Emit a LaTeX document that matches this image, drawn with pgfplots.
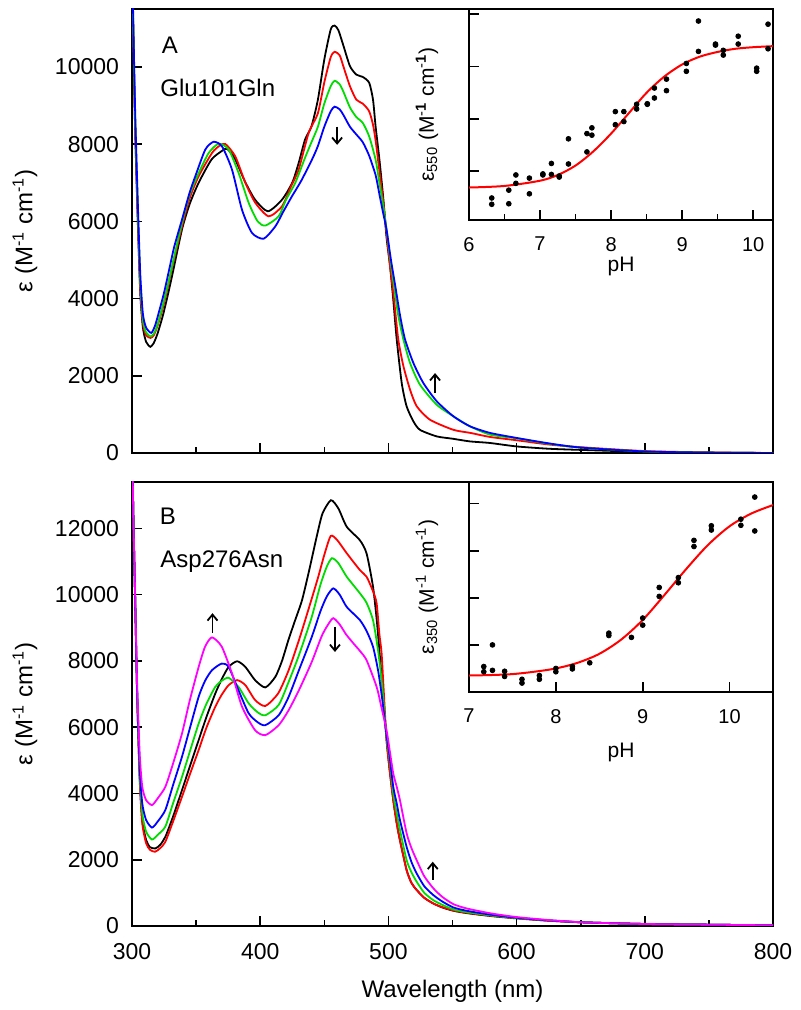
\documentclass[border=0pt]{standalone}
\usepackage{fontspec}
\setmainfont{Liberation Sans}
\usepackage{pgfplots}
\pgfplotsset{compat=1.18}
\usetikzlibrary{arrows.meta}

\definecolor{cgreen}{RGB}{0,220,0}
\definecolor{cblue}{RGB}{0,0,255}
\definecolor{cred}{RGB}{255,0,0}
\definecolor{cmag}{RGB}{255,0,255}

\tikzset{arr/.style={-{Straight Barb[length=3pt,width=5pt]}, line width=0.9pt}}

\pgfplotsset{
  spec/.style={
    scale only axis, width=320.5pt, height=222pt,
    xmin=300, xmax=800, xtick={300,400,...,800}, minor x tick num=1,
    scaled y ticks=false,
    tick align=inside, xtick pos=bottom, ytick pos=left,
    major tick length=5pt, minor tick length=3pt,
    axis line style={line width=1pt},
    every tick/.style={black, line width=0.8pt},
    /pgf/number format/assume math mode=true,
    /pgf/number format/1000 sep={},
    ticklabel style={font=\fontsize{11.5}{13}\selectfont},
    yticklabel style={xshift=-3pt},
    xticklabel style={yshift=-5pt},
    label style={font=\fontsize{12}{14}\selectfont},
    ylabel style={at={(axis description cs:-0.167,0.5)}, anchor=center},
    ylabel={ε (M\textsuperscript{-1} cm\textsuperscript{-1})},
    every axis plot/.append style={line width=0.9pt, smooth, tension=0.4},
  },
  inset/.style={
    scale only axis, width=152pt,
    tick align=inside, xtick pos=bottom, ytick pos=left,
    yticklabels={},
    axis background/.style={fill=white},
    major tick length=5pt, minor tick length=3pt,
    axis line style={line width=1pt},
    every tick/.style={black, line width=0.8pt},
    /pgf/number format/assume math mode=true,
    ticklabel style={font=\fontsize{10}{12}\selectfont},
    xticklabel style={yshift=-5pt},
    label style={font=\fontsize{10.5}{12}\selectfont},
    ylabel style={at={(axis description cs:-0.138,0.5)}, anchor=center},
    xlabel={pH},
  },
}

\begin{document}
\begin{tikzpicture}
\useasboundingbox (0,0) rectangle (400pt,505pt);

% ---- panel A ----
\begin{axis}[spec, at={(66pt,278.5pt)}, anchor=south west,
  ymin=0, ymax=11500, ytick={0,2000,...,10000}, xticklabels={}]
\addplot[black] coordinates {
(300,13000)(301,10800)(302.5,8300)(304.7,5800)(306.5,4100)(308.5,3250)(311,2880)(314.3,2750)(317,2850)(320,3100)(324,3550)(328,4100)(332,4700)(339,5790)(345,6450)(352,7000)(362,7600)(370,7820)(374,7880)(380,7640)(388,7040)(396,6560)(406,6260)(417,6560)(425,7000)(430,7510)(435,8120)(440,8460)(445,9150)(450,10190)(455,10970)(458,11070)(461,10950)(465,10540)(470,10020)(475,9800)(480,9740)(485,9590)(488,9150)(490,8460)(493,7600)(496,6600)(498.5,5600)(501.3,4840)(503.8,3970)(506.5,2940)(510.4,1810)(514.2,1210)(519.5,820)(524.6,600)(537.7,430)(550,370)(563.6,300)(579,260)(600,170)(625,110)(650,80)(700,30)(750,10)(800,0)
};
\addplot[cred] coordinates {
(300,13000)(301,10900)(302.5,8400)(304.7,5900)(306.5,4200)(308.5,3350)(311,3050)(314.5,2980)(317,3050)(320,3300)(324,3750)(328,4300)(332,4900)(339,5870)(345,6600)(352,7170)(362.4,7770)(368,7950)(372.8,8005)(380.6,7680)(388.4,7000)(396.2,6480)(406.6,6130)(417,6390)(424,6900)(430,7340)(437.8,8290)(445,8800)(450,9600)(455,10250)(458,10390)(462,10300)(465,10000)(470,9500)(475,9150)(480,9050)(485,8850)(488,8500)(490,8100)(493,7300)(496,6500)(498.5,5700)(501.3,4840)(504.4,3970)(507.7,2940)(511.7,2250)(516.9,1640)(522.1,1210)(532.5,860)(550.7,600)(564,520)(579.3,415)(600,330)(625,220)(650,150)(700,50)(750,15)(800,0)
};
\addplot[cgreen] coordinates {
(300,13000)(301,11000)(302.5,8600)(304.7,6100)(306.5,4400)(308.5,3450)(311,3120)(315,3020)(318,3150)(321,3450)(325,3950)(329,4500)(333,5100)(339,5960)(345,6700)(352,7250)(359.8,7770)(367.6,8010)(375.4,7860)(383.2,7250)(391,6480)(398,6000)(404,5890)(414.4,6130)(420,6550)(427.4,7000)(435,7650)(440,8050)(445,8450)(450,9050)(455,9500)(458,9640)(462,9550)(465,9350)(470,8950)(475,8700)(480,8550)(485,8200)(490,7600)(493,7000)(496,6400)(498.5,5800)(501.5,5000)(504.5,4300)(507.7,3560)(511.7,2940)(516.9,2330)(524.6,1770)(537.7,1250)(550.7,950)(563.7,690)(579.3,475)(600,380)(625,240)(650,140)(700,40)(750,10)(800,0)
};
\addplot[cblue] coordinates {
(300,13000)(301,11200)(302.5,8800)(304.7,6300)(306.5,4600)(308.5,3600)(311,3250)(315,3110)(318,3300)(321,3650)(325,4150)(329,4750)(333,5350)(339,6045)(345,6750)(349.4,7170)(357.2,7860)(363.7,8060)(370.2,7940)(378,7340)(385.8,6300)(393.6,5700)(402.7,5550)(411.8,5870)(418,6250)(424.8,6650)(432,7050)(440.4,7600)(445,7950)(450,8450)(455,8850)(458,8970)(462,8900)(465,8750)(470,8450)(475,8250)(480,8050)(485,7700)(490,7200)(493,6700)(496,6200)(498.5,5800)(502,5000)(505.5,4300)(509.1,3560)(513,2940)(519.5,2330)(527.3,1810)(537.7,1340)(550.7,950)(563.7,690)(579.3,520)(600,390)(625,250)(650,140)(700,40)(750,10)(800,0)
};
\draw[arr] (axis cs:460,8450) -- (axis cs:460,7980);
\draw[arr] (axis cs:536.4,1550) -- (axis cs:536.4,2070);
\end{axis}

% ---- panel B ----
\begin{axis}[spec, at={(66pt,42pt)}, anchor=south west,
  ymin=0, ymax=13400, ytick={0,2000,...,12000},
  xlabel={Wavelength (nm)},
  xlabel style={at={(axis description cs:0.5,-0.148)}, anchor=center}]
\addplot[black] coordinates {
(300,15000)(301,12500)(302.5,9800)(304,7000)(306,4500)(308,3200)(311,2600)(314,2380)(318.2,2340)(322,2450)(326,2690)(332,3300)(339,4100)(345,4800)(352,5610)(358,6300)(365,7020)(370,7450)(375.4,7820)(382,7990)(388.4,7820)(396,7420)(404,7200)(411.8,7520)(417,8000)(422,8630)(427,9200)(432.6,9830)(438,10700)(444,11740)(448.6,12450)(455.2,12850)(461,12600)(467.5,12050)(477.8,11640)(483,11240)(488,10240)(491,9200)(493.4,8120)(496,6900)(498.6,5600)(501,4700)(503.8,3800)(506.5,3100)(509,2590)(514.2,1690)(518,1300)(522,1090)(528,850)(535,680)(542,560)(550.7,460)(561,390)(580,300)(600,230)(625,160)(652,110)(701,60)(750,40)(800,20)
};
\addplot[cred] coordinates {
(300,15000)(301,12500)(302.5,9800)(304,7000)(306,4400)(308,3100)(311,2500)(314,2300)(318,2240)(322,2350)(326,2540)(332,3150)(339,3900)(345,4560)(352,5310)(358,5980)(365,6620)(370,6980)(375.4,7270)(382,7420)(388.4,7270)(396,6820)(404,6640)(414,7020)(422,7700)(430,8600)(438,9600)(445,10500)(450,11200)(455,11770)(460,11650)(467.5,11250)(477.8,10740)(483,10540)(488,10100)(490.8,9740)(493,8800)(494.7,8230)(496.5,7000)(498.6,5600)(501,4700)(503.8,3800)(506.5,3100)(509,2590)(514.2,1690)(518,1300)(522,1090)(528,850)(535,680)(542,570)(550.7,470)(561,400)(580,310)(600,240)(625,160)(652,110)(701,60)(750,40)(800,20)
};
\addplot[cgreen] coordinates {
(300,15000)(301,12500)(302.5,9800)(304,7000)(306,4600)(308,3400)(311,2850)(315.6,2610)(320,2750)(326,3000)(332,3700)(339,4500)(345,5250)(352,6110)(358,6700)(365,7220)(370,7400)(375.4,7490)(383,7220)(391,6720)(398,6450)(404,6360)(414.4,6670)(422,7350)(430,8150)(440,9300)(447,10300)(452,10850)(456,11100)(461,10950)(467.5,10540)(477.8,10040)(483,9750)(488,9230)(492,8300)(495,7300)(498.6,5700)(501,5000)(503.8,4000)(506.5,3400)(509,2900)(514.2,1990)(518,1620)(522,1340)(528,1000)(535,780)(542,640)(550.7,500)(561,420)(580,320)(600,240)(625,170)(652,110)(701,60)(750,40)(800,20)
};
\addplot[cblue] coordinates {
(300,15000)(301,12500)(302.5,9800)(304,7100)(306,4800)(308,3700)(311,3200)(315.6,2970)(320,3150)(326,3500)(332,4250)(339,5110)(345,5950)(352,6920)(357,7400)(362.4,7720)(370,7920)(375.4,7820)(383,7120)(391,6420)(398,6150)(404,6060)(414.4,6360)(422,6900)(430,7700)(440,8700)(447,9500)(452,9950)(457,10190)(462,10000)(467.5,9630)(477.8,9230)(483,8900)(488,8430)(492,7700)(495,6900)(498.6,5750)(501,5100)(503.8,4200)(506.5,3700)(509,3200)(514.2,2390)(518,1930)(522,1590)(528,1200)(535,935)(542,740)(550.7,560)(561,460)(580,340)(600,250)(625,170)(652,110)(701,60)(750,40)(800,20)
};
\addplot[cmag] coordinates {
(300,15000)(301,12500)(302.5,9900)(304,7300)(306,5200)(308,4200)(311,3800)(315.6,3650)(320,3850)(326,4200)(332,4900)(339,5810)(345,6800)(352,7820)(357,8430)(362.4,8710)(370,8430)(378,7620)(385.8,6620)(396,5910)(404,5760)(414.4,6060)(422,6500)(430,7100)(440,7950)(448,8750)(453,9100)(457,9290)(462,9100)(467,8800)(472.7,8530)(477.8,8300)(483,8020)(490.8,7220)(494,6700)(498.6,5900)(501,5300)(503.8,4600)(506.5,4200)(509,3800)(514.2,2800)(518,2350)(522,1990)(528,1500)(535,1140)(542,880)(550.7,660)(561,530)(580,380)(600,270)(625,180)(652,110)(701,60)(750,40)(800,20)
};
\draw[arr] (axis cs:362.8,8840) -- (axis cs:362.8,9440);
\draw[arr] (axis cs:458.3,9030) -- (axis cs:458.3,8270);
\draw[arr] (axis cs:534.6,1390) -- (axis cs:534.6,1940);
\end{axis}

% ---- inset A ----
\begin{axis}[inset, at={(234.5pt,395pt)}, anchor=south west, height=105.5pt,
  xmin=6, xmax=10.28, ymin=0.07, ymax=4.1,
  xtick={6,7,8,9,10}, minor x tick num=1, ytick={1,2,3,4},
  ylabel={ε\textsubscript{550} (M\textsuperscript{-\textbf{1}} cm\textsuperscript{-\textbf{1}})},
  xlabel style={at={(axis description cs:0.5,-0.221)}, anchor=center}]
\addplot[cred, line width=1pt, smooth] coordinates {
(6,0.69)(6.5,0.72)(7,0.82)(7.25,0.93)(7.5,1.11)(7.75,1.38)(8,1.72)(8.25,2.11)(8.5,2.50)(8.75,2.81)(9,3.04)(9.25,3.19)(9.5,3.28)(9.75,3.34)(10,3.37)(10.28,3.39)
};
\addplot[only marks, mark=*, mark size=1.2pt, black] coordinates {
(6.32,0.49)(6.32,0.37)(6.56,0.64)(6.56,0.38)(6.66,0.93)(6.66,0.77)(6.85,0.87)(6.85,0.57)(7.04,0.95)(7.04,0.93)(7.16,1.15)(7.16,0.94)(7.27,0.91)(7.27,0.89)(7.40,1.62)(7.40,1.14)(7.66,1.72)(7.66,1.37)(7.73,1.83)(7.73,1.69)(8.06,2.14)(8.06,1.89)(8.18,2.14)(8.18,1.95)(8.36,2.28)(8.36,2.19)(8.51,2.29)(8.51,2.28)(8.61,2.59)(8.61,2.40)(8.78,2.76)(8.78,2.54)(9.06,3.06)(9.06,2.91)(9.23,3.87)(9.23,3.29)(9.47,3.43)(9.47,3.41)(9.58,3.31)(9.58,3.22)(9.79,3.58)(9.79,3.43)(10.05,2.97)(10.05,2.91)(10.21,3.81)(10.21,3.34)
};
\end{axis}

% ---- inset B ----
\begin{axis}[inset, at={(234.5pt,159pt)}, anchor=south west, height=105pt,
  xmin=7, xmax=10.5, ymin=0, ymax=4.46,
  xtick={7,8,9,10}, ytick={1,2,3,4},
  ylabel={ε\textsubscript{350} (M\textsuperscript{-1} cm\textsuperscript{-1})},
  xlabel style={at={(axis description cs:0.5,-0.29)}, anchor=center}]
\addplot[cred, line width=1pt, smooth] coordinates {
(7,0.35)(7.25,0.36)(7.5,0.38)(7.75,0.43)(8,0.50)(8.25,0.62)(8.5,0.81)(8.75,1.11)(9,1.53)(9.25,2.06)(9.5,2.61)(9.75,3.12)(10,3.52)(10.25,3.79)(10.5,3.97)
};
\addplot[only marks, mark=*, mark size=1.2pt, black] coordinates {
(7.17,0.54)(7.17,0.43)(7.27,1.00)(7.27,0.46)(7.41,0.44)(7.41,0.33)(7.61,0.27)(7.61,0.19)(7.81,0.35)(7.81,0.27)(8.00,0.50)(8.00,0.43)(8.19,0.54)(8.19,0.49)(8.39,0.62)(8.61,1.25)(8.61,1.20)(8.87,1.16)(9.00,1.57)(9.00,1.42)(9.19,2.22)(9.19,2.03)(9.41,2.43)(9.41,2.32)(9.59,3.22)(9.59,3.09)(9.79,3.53)(9.79,3.44)(10.13,3.67)(10.13,3.54)(10.29,4.14)(10.29,3.42)
};
\end{axis}

\node[font=\fontsize{12}{14}\selectfont] at (85pt,482.5pt) {A};
\node[font=\fontsize{12}{14}\selectfont, anchor=west, inner sep=0pt] at (80pt,461pt) {Glu101Gln};
\node[font=\fontsize{12}{14}\selectfont] at (84pt,246.7pt) {B};
\node[font=\fontsize{12}{14}\selectfont, anchor=west, inner sep=0pt] at (80pt,224.2pt) {Asp276Asn};
\end{tikzpicture}
\end{document}
